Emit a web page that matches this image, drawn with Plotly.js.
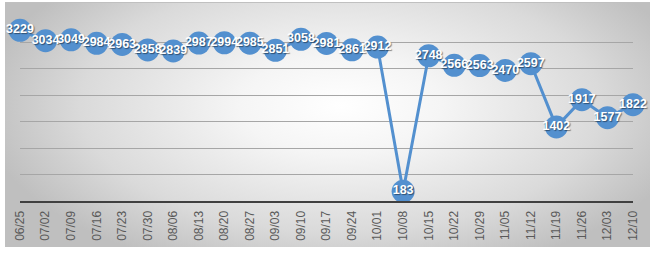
<!DOCTYPE html>
<html>
<head>
<meta charset="utf-8">
<script src="https://cdn.plot.ly/plotly-3.0.1.min.js"></script>
<style>
html,body{margin:0;padding:0;background:#ffffff;}
#wrap{position:relative;width:652px;height:255px;overflow:hidden;}
#bg{position:absolute;left:5px;top:2px;width:645px;height:245px;box-sizing:border-box;border-top:1px solid #c0c0c0;
background:radial-gradient(ellipse 56% 72% at 52% 42%, #ffffff 0%, #f5f5f5 28%, #dadada 72%, #bfbfbf 100%);}
#chart{position:absolute;left:0;top:0;width:652px;height:255px;}
</style>
</head>
<body>
<div id="wrap"><div id="bg"></div><div id="chart"></div></div>
<script>
var categories = ["06/25","07/02","07/09","07/16","07/23","07/30","08/06","08/13","08/20","08/27","09/03","09/10","09/17","09/24","10/01","10/08","10/15","10/22","10/29","11/05","11/12","11/19","11/26","12/03","12/10"];
var values = [3229,3034,3049,2984,2963,2858,2839,2987,2994,2985,2851,3058,2981,2861,2912,183,2748,2566,2563,2470,2597,1402,1917,1577,1822];

var trace = {
  x: categories,
  y: values,
  type: 'scatter',
  mode: 'lines+markers+text',
  text: values.map(String),
  textposition: 'middle center',
  textfont: {family: 'Liberation Sans, Arial, sans-serif', size: 12.5, color: '#ffffff', weight: 'bold', shadow: '1px 1px 1px rgba(0,0,0,0.45)'},
  line: {color: '#5390cf', width: 3},
  marker: {color: '#5390cf', size: 23, line: {width: 0}},
  cliponaxis: false,
  hoverinfo: 'none'
};

var layout = {
  width: 652, height: 255,
  margin: {l: 20, r: 19, t: 16, b: 54, pad: 0},
  paper_bgcolor: 'rgba(0,0,0,0)',
  plot_bgcolor: 'rgba(0,0,0,0)',
  showlegend: false,
  xaxis: {
    type: 'category',
    range: [0, categories.length - 1],
    showgrid: false, zeroline: false,
    showline: true, linecolor: '#404040', linewidth: 2,
    ticks: '', tickangle: -90,
    ticklabelstandoff: 3,
    tickfont: {family: 'Liberation Sans, Arial, sans-serif', size: 12, color: '#595959'},
    fixedrange: true
  },
  yaxis: {
    range: [0, 3500],
    dtick: 500, tick0: 0,
    showticklabels: false,
    showgrid: true, gridcolor: '#a6a6a6', gridwidth: 1,
    zeroline: false, showline: false, ticks: '',
    fixedrange: true
  }
};

Plotly.newPlot('chart', [trace], layout, {displayModeBar: false, staticPlot: true});
</script>
</body>
</html>
